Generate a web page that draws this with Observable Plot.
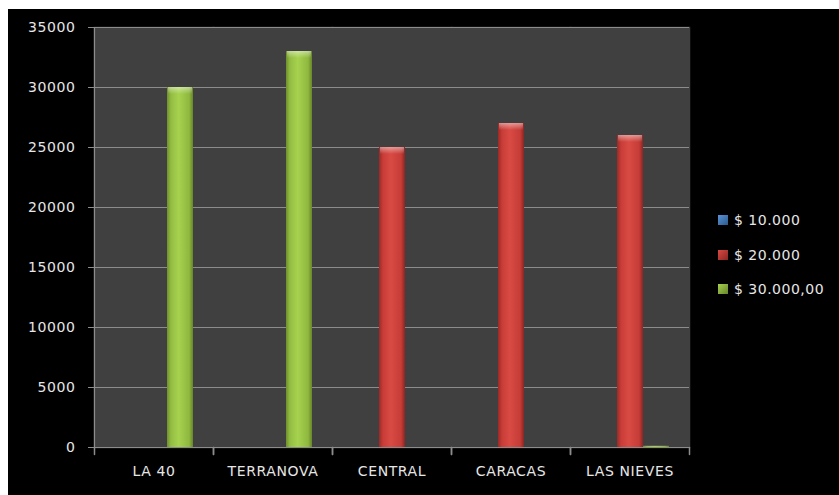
<!DOCTYPE html>
<html><head><meta charset="utf-8">
<script src="https://cdn.jsdelivr.net/npm/d3@7"></script>
<script src="https://cdn.jsdelivr.net/npm/@observablehq/plot@0.6"></script>
<style>
body{margin:0;background:#fff;}
#chart{position:absolute;left:8px;top:9px;width:831px;height:486px;background:#000;overflow:hidden;}
#chart svg{position:absolute;left:0;top:0;}
#legend{position:absolute;left:710px;top:194px;font-family:"DejaVu Sans";font-size:14px;letter-spacing:0.5px;color:#e6e6e6;}
.item{height:34.5px;display:flex;align-items:center;}
.sw{width:10px;height:10px;margin-right:6px;}
</style></head><body><div id="chart"><div id="legend"></div></div>
<script>
const categories = ["LA 40", "TERRANOVA", "CENTRAL", "CARACAS", "LAS NIEVES"];
const seriesNames = ["$ 10.000", "$ 20.000", "$ 30.000,00"];
const values10 = [0, 0, 0, 0, 0];
const values20 = [0, 0, 25000, 27000, 26000];
const values30 = [30000, 33000, 0, 0, 100];
const yTicks = [0, 5000, 10000, 15000, 20000, 25000, 30000, 35000];
const seriesGradients = [
  ["#2f5f96", "#4a83c8", "#5a93d6", "#4a80c0", "#2c5a8e"],
  ["#9a2a27", "#c83c37", "#d94a44", "#c63c37", "#8c2522"],
  ["#6f8f2c", "#93bd42", "#a6d24f", "#8fb83f", "#67852a"]
];

const allValues = [values10, values20, values30];
const rows = [];
categories.forEach((c, i) => {
  seriesNames.forEach((s, j) => rows.push({cat: c, series: s, value: allValues[j][i]}));
});

const gradIds = seriesNames.map((s, j) => "bg" + j);
const tickShape = {draw(ctx, l) { ctx.moveTo(0, 0); ctx.lineTo(0, -l); }};
const gray = "#8c8c8c";

const plot = Plot.plot({
  width: 831, height: 486,
  marginLeft: 84, marginRight: 149, marginTop: 18, marginBottom: 48,
  style: {background: "transparent", color: "#e6e6e6", fontFamily: "DejaVu Sans", fontSize: "14px", letterSpacing: "0.6px"},
  fx: {domain: categories, padding: 0, label: null},
  x: {domain: seriesNames, paddingInner: 0, paddingOuter: 0.71, axis: null},
  y: {domain: [0, 35000], label: null},
  color: {domain: seriesNames, range: gradIds.map(id => `url(#${id})`)},
  marks: [
    Plot.frame({fill: "#404040", stroke: "#404040", strokeWidth: 1.5}),
    Plot.gridY(yTicks, {stroke: gray, strokeOpacity: 1, strokeWidth: 1.2}),
    Plot.ruleY([0], {stroke: gray, strokeWidth: 1.2}),
    Plot.barY(rows, {fx: "cat", x: "series", y: "value", fill: "series"}),
    Plot.barY(rows, {filter: d => d.value >= 1000, fx: "cat", x: "series", y1: "value", y2: "value", insetBottom: -7, insetLeft: 1, insetRight: 1, fill: "url(#topglow)"}),
    Plot.frame({anchor: "left", facetAnchor: "left", stroke: gray, strokeWidth: 1.2}),
    Plot.axisY(yTicks, {tickSize: 6, tickPadding: 13, stroke: gray, tickFormat: d3.format("d"), label: null}),
    Plot.axisFx({anchor: "bottom", tickSize: 0, tickPadding: 19, label: null}),
    Plot.vector([0], {frameAnchor: "bottom-left", length: 7, rotate: 180, anchor: "start", shape: tickShape, stroke: gray}),
    Plot.vector([0], {frameAnchor: "bottom-right", length: 7, rotate: 180, anchor: "start", shape: tickShape, stroke: gray})
  ]
});

// gradients for the cylinder look
const defs = d3.select(plot).insert("defs", ":first-child");
seriesGradients.forEach((stops, j) => {
  const g = defs.append("linearGradient").attr("id", gradIds[j]).attr("x1", 0).attr("x2", 1).attr("y1", 0).attr("y2", 0);
  [0, 0.15, 0.45, 0.85, 1].forEach((o, k) => g.append("stop").attr("offset", o).attr("stop-color", stops[k]));
});
const tg = defs.append("linearGradient").attr("id", "topglow").attr("x1", 0).attr("x2", 0).attr("y1", 0).attr("y2", 1);
tg.append("stop").attr("offset", 0).attr("stop-color", "#ffffff").attr("stop-opacity", 0.45);
tg.append("stop").attr("offset", 1).attr("stop-color", "#ffffff").attr("stop-opacity", 0);

document.getElementById("chart").appendChild(plot);

// legend
const legend = d3.select("#legend");
seriesNames.forEach((s, j) => {
  const it = legend.append("div").attr("class", "item");
  it.append("div").attr("class", "sw").style("background", `linear-gradient(135deg, ${seriesGradients[j][2]}, ${seriesGradients[j][4]})`);
  it.append("span").text(s);
});
</script>
</body></html>
